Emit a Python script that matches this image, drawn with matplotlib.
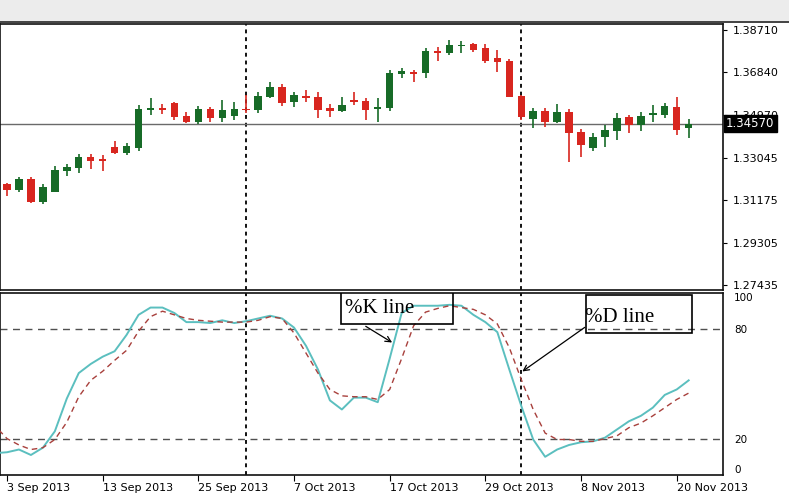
import matplotlib
matplotlib.use("Agg")
import matplotlib.pyplot as plt
import matplotlib.transforms as mtransforms
from matplotlib.patches import Rectangle
import numpy as np
import pandas as pd

# daily EURUSD bars, first one (2 Sep) is cut by the left edge
dates = pd.bdate_range("2013-09-02", periods=59)
opens = [1.3155, 1.3189, 1.3164, 1.3211, 1.3112, 1.3156, 1.3249, 1.3262, 1.3311, 1.3299, 1.3355,
         1.3328, 1.3349, 1.3517, 1.3528, 1.3547, 1.3491, 1.3463, 1.3520, 1.3483, 1.3491, 1.3522,
         1.3516, 1.3576, 1.3620, 1.3554, 1.3579, 1.3576, 1.3525, 1.3513, 1.3562, 1.3557, 1.3522,
         1.3524, 1.3675, 1.3684, 1.3680, 1.3780, 1.3768, 1.3802, 1.3809, 1.3790, 1.3746, 1.3735,
         1.3579, 1.3476, 1.3514, 1.3466, 1.3510, 1.3421, 1.3348, 1.3397, 1.3426, 1.3485, 1.3451,
         1.3494, 1.3495, 1.3532, 1.3436]
highs = [1.3208, 1.3196, 1.3220, 1.3220, 1.3189, 1.3270, 1.3279, 1.3323, 1.3323, 1.3318, 1.3381,
         1.3370, 1.3538, 1.3569, 1.3543, 1.3554, 1.3510, 1.3535, 1.3532, 1.3562, 1.3554, 1.3584,
         1.3598, 1.3642, 1.3631, 1.3598, 1.3606, 1.3598, 1.3543, 1.3576, 1.3596, 1.3569, 1.3569,
         1.3692, 1.3702, 1.3694, 1.3790, 1.3795, 1.3827, 1.3824, 1.3815, 1.3809, 1.3783, 1.3741,
         1.3584, 1.3525, 1.3525, 1.3544, 1.3520, 1.3432, 1.3414, 1.3451, 1.3503, 1.3495, 1.3510,
         1.3539, 1.3547, 1.3573, 1.3476]
lows = [1.3141, 1.3137, 1.3156, 1.3105, 1.3100, 1.3154, 1.3225, 1.3237, 1.3255, 1.3249, 1.3323,
        1.3318, 1.3335, 1.3495, 1.3498, 1.3473, 1.3459, 1.3455, 1.3466, 1.3466, 1.3473, 1.3503,
        1.3503, 1.3569, 1.3536, 1.3532, 1.3554, 1.3481, 1.3488, 1.3510, 1.3539, 1.3473, 1.3466,
        1.3511, 1.3657, 1.3642, 1.3657, 1.3735, 1.3760, 1.3771, 1.3775, 1.3724, 1.3687, 1.3573,
        1.3473, 1.3436, 1.3443, 1.3459, 1.3289, 1.3311, 1.3337, 1.3352, 1.3385, 1.3414, 1.3426,
        1.3466, 1.3481, 1.3407, 1.3392]
closes = [1.3195, 1.3164, 1.3211, 1.3112, 1.3178, 1.3252, 1.3267, 1.3308, 1.3293, 1.3292, 1.3328,
          1.3358, 1.3520, 1.3524, 1.3517, 1.3488, 1.3463, 1.3520, 1.3481, 1.3517, 1.3520, 1.3517,
          1.3577, 1.3620, 1.3547, 1.3584, 1.3569, 1.3517, 1.3513, 1.3539, 1.3554, 1.3517, 1.3532,
          1.3679, 1.3690, 1.3675, 1.3780, 1.3768, 1.3805, 1.3805, 1.3783, 1.3735, 1.3731, 1.3576,
          1.3485, 1.3514, 1.3466, 1.3510, 1.3414, 1.3363, 1.3399, 1.3429, 1.3481, 1.3451, 1.3491,
          1.3503, 1.3535, 1.3429, 1.3457]

# stochastic oscillator
k_line = [12, 12.5, 14, 11, 15, 24, 42, 56, 61, 65, 68, 77, 88, 92, 92, 89, 84, 84, 83.5, 85,
          83.5, 84.5, 86, 87.5, 86, 81, 71, 58, 41, 36, 42.5, 42.5, 40, 64, 89, 93, 93, 93, 93.5,
          93, 88, 84, 78.5, 58, 38, 19.5, 10, 14, 16.5, 18, 18.5, 20.5, 25, 29.5, 32.5, 37, 44,
          47, 52]
d_line = [27, 20, 16.5, 14, 15, 19.5, 29, 43, 52, 57, 63, 68.5, 79, 87, 90, 88, 86, 85, 84.5,
          84, 84, 84, 85, 87, 86, 78, 67, 56, 47, 43.5, 43, 43, 41.5, 47, 64, 82, 89.5, 91.5, 93,
          92, 91, 88, 83, 70, 52.5, 36, 23, 19.5, 19.5, 18.5, 18.5, 20, 21.5, 26, 28.5, 32.5, 37,
          41.5, 45]

price_ticks = [1.38710, 1.36840, 1.34970, 1.33045, 1.31175, 1.29305, 1.27435]
price_labels = ["1.38710", "1.36840", "1.34970", "1.33045", "1.31175", "1.29305", "1.27435"]
bid = 1.34570
stoch_levels = [80, 20]
date_ticks = [0, 8, 16, 24, 32, 40, 48, 56]
date_labels = ["3 Sep 2013", "13 Sep 2013", "25 Sep 2013", "7 Oct 2013", "17 Oct 2013",
               "29 Oct 2013", "8 Nov 2013", "20 Nov 2013"]

x = np.arange(len(dates)) - 1
o = np.array(opens); c = np.array(closes); h = np.array(highs); l = np.array(lows)
up = c >= o
col = np.where(up, "#176b27", "#d8261f")

fig = plt.figure(figsize=(7.89, 4.98), dpi=100, facecolor="white")
fig.patches.append(Rectangle((0, 1 - 21 / 498), 1, 21 / 498, transform=fig.transFigure,
                             facecolor="#ececec", edgecolor="none", zorder=0))
fig.add_artist(plt.Line2D([0, 1], [1 - 22.5 / 498] * 2, color="#222222", lw=1.2))

ax = fig.add_axes([0, 1 - 290 / 498, 723 / 789, 266 / 498])
ax2 = fig.add_axes([0, 1 - 475 / 498, 723 / 789, 182 / 498])
xlim = (-0.585, 59.87)

# candles
body = np.maximum(np.abs(c - o), 0.00022)
ax.vlines(x, l, h, color=col, lw=1.2, zorder=3)
ax.bar(x, body, bottom=np.minimum(o, c), width=0.62, color=col, zorder=4)
ax.axhline(bid, color="#6a6a6a", lw=1, zorder=2)
ax.set_ylim(1.27214, 1.38975)
ax.set_xlim(*xlim)

# month separators
for i, d in enumerate(dates):
    if i > 0 and d.month != dates[i - 1].month:
        for a in (ax, ax2):
            a.axvline(x[i], color="#111111", lw=1.4, ls=(0, (2, 2)), zorder=1)

ax.yaxis.tick_right()
ax.set_yticks(price_ticks)
ax.set_yticklabels(price_labels)
ax.set_xticks([])
ax.tick_params(axis="y", direction="out", length=3, width=0.8, pad=4, labelsize=8)
trans = mtransforms.blended_transform_factory(ax.transAxes, ax.transData)
ax.text(1.004, bid, "1.34570", transform=trans, ha="left", va="center", fontsize=8.5,
        color="white", bbox=dict(boxstyle="square,pad=0.2", fc="black", ec="black"), zorder=10)

# stochastic panel
ax2.plot(x, k_line, color="#5bbfbf", lw=1.4, zorder=4)
ax2.plot(x, d_line, color="#a8403c", lw=1.0, ls=(0, (4, 3)), zorder=5)
for lev in stoch_levels:
    ax2.axhline(lev, color="#505050", lw=1, ls=(0, (5, 4)), zorder=2)
ax2.set_ylim(0, 100)
ax2.set_xlim(*xlim)
ax2.yaxis.tick_right()
ax2.set_yticks([100, 80, 20, 0])
ax2.set_yticklabels(["100", "80", "20", "0"])
ax2.tick_params(axis="y", length=0, pad=8, labelsize=7.5)
lbls = ax2.get_yticklabels()
lbls[0].set_va("top")
lbls[3].set_va("bottom")
ax2.set_xticks(date_ticks)
ax2.set_xticklabels(date_labels, ha="left")
ax2.tick_params(axis="x", direction="out", length=4, width=0.8, pad=2, labelsize=8)

# annotation boxes
ax2.add_patch(Rectangle((27.9, 82.9), 9.4, 20, fill=False, ec="black", lw=1.2, zorder=6))
ax2.text(28.3, 91.5, "%K line", family="Liberation Serif", fontsize=15, va="center", zorder=7)
ax2.annotate("", xy=(32.4, 72), xytext=(29.8, 82.5),
             arrowprops=dict(arrowstyle="->", color="black", lw=0.9), zorder=7)
ax2.add_patch(Rectangle((48.4, 77.9), 8.9, 21, fill=False, ec="black", lw=1.2, zorder=6))
ax2.text(48.3, 86.5, "%D line", family="Liberation Serif", fontsize=15, va="center", zorder=7)
ax2.annotate("", xy=(42.9, 56), xytext=(48.5, 82),
             arrowprops=dict(arrowstyle="->", color="black", lw=0.9), zorder=7)

for a in (ax, ax2):
    a.set_facecolor("white")
    for s in a.spines.values():
        s.set_color("#111111")
        s.set_linewidth(1.2)

fig.savefig("out.png", dpi=100, facecolor="white")
